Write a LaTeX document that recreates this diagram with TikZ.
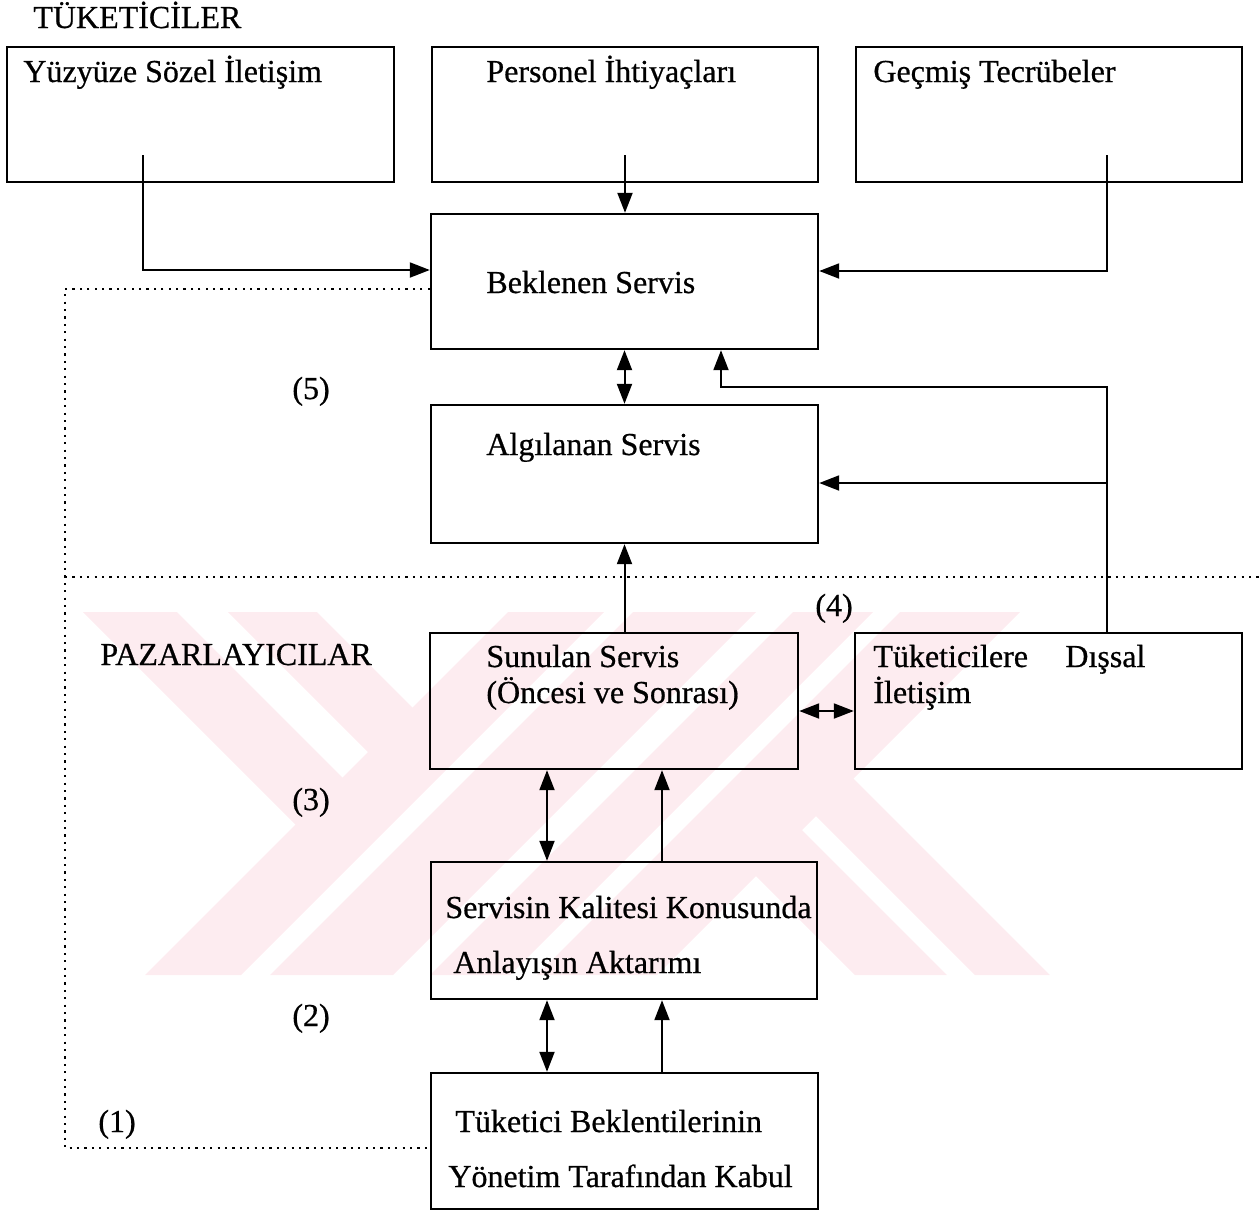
\documentclass[tikz,border=0pt]{standalone}
\usepackage{fontspec}
\setmainfont{Liberation Serif}[FakeBold=0.6]
\usetikzlibrary{arrows.meta,fit,calc}
\definecolor{wm}{RGB}{253,236,240}
\begin{document}
\begin{tikzpicture}[x=0.5pt,y=-0.5pt,
  box/.style={draw, line width=1.2pt, inner sep=0pt},
  txt/.style={anchor=base west, inner sep=0pt, font=\fontsize{16}{19}\selectfont},
  conn/.style={line width=1pt},
  arr/.style={conn, -{Triangle[length=10pt,width=7.5pt]}},
  darr/.style={conn, {Triangle[length=10pt,width=7.5pt]}-{Triangle[length=10pt,width=7.5pt]}},
  dots/.style={line width=1.1pt, dash pattern=on 1.1pt off 2.6pt}
]
\useasboundingbox (0,0) rectangle (1259,1211);

% watermark
\fill[wm] (83,612) -- (177,612) -- (345,780) -- (298,827) -- cycle;
\fill[wm] (228,612) -- (317,612) -- (415,710) -- (370.5,754.5) -- cycle;
\fill[wm] (753.5,873.5) -- (799.5,827.5) -- (947,975) -- (855,975) -- cycle;
\fill[wm] (813.5,813.5) -- (851,776) -- (1050,975) -- (975,975) -- cycle;
\fill[wm] (508,612) -- (604,612) -- (241,975) -- (145,975) -- cycle;
\fill[wm] (633,612) -- (756,612) -- (393,975) -- (270,975) -- cycle;
\fill[wm] (793,612) -- (873,612) -- (510,975) -- (430,975) -- cycle;
\fill[wm] (900,612) -- (1020,612) -- (657,975) -- (537,975) -- cycle;

% boxes
\node[box, fit={(7,47) (394,182)}] (b1) {};
\node[box, fit={(432,47) (818,182)}] (b2) {};
\node[box, fit={(856,47) (1242,182)}] (b3) {};
\node[box, fit={(431,214) (818,349)}] (bek) {};
\node[box, fit={(431,405) (818,543)}] (alg) {};
\node[box, fit={(430,633) (798,769)}] (sun) {};
\node[box, fit={(855,633) (1242,769)}] (tuk) {};
\node[box, fit={(431,862) (817,999)}] (ser) {};
\node[box, fit={(431,1073) (818,1209)}] (tb) {};

% texts
\node[txt] (tT) at (33,28) {TÜKETİCİLER};
\node[txt] (t1) at (23,82) {Yüzyüze Sözel İletişim};
\node[txt] (t2) at (486,82) {Personel İhtiyaçları};
\node[txt] (t3) at (873,82) {Geçmiş Tecrübeler};
\node[txt] (tbek) at (486,293) {Beklenen Servis};
\node[txt] (talg) at (486,455) {Algılanan Servis};
\node[txt] (n5) at (292,399) {(5)};
\node[txt] (tP) at (100,665) {PAZARLAYICILAR};
\node[txt] (ts1) at (486,667) {Sunulan Servis};
\node[txt] (ts2) at (486,703) {(Öncesi ve Sonrası)};
\node[txt] (n4) at (815,616) {(4)};
\node[txt] (tk1) at (873,667) {Tüketicilere};
\node[txt] (tk2) at (1065,667) {Dışsal};
\node[txt] (tk3) at (873,703) {İletişim};
\node[txt] (n3) at (292,810) {(3)};
\node[txt] (tr1) at (445,918) {Servisin Kalitesi Konusunda};
\node[txt] (tr2) at (453,973) {Anlayışın Aktarımı};
\node[txt] (n2) at (292,1026) {(2)};
\node[txt] (tb1) at (455,1132) {Tüketici Beklentilerinin};
\node[txt] (tb2) at (448,1187) {Yönetim Tarafından Kabul};
\node[txt] (n1) at (98,1132) {(1)};

% coordinates
\coordinate (c1) at (143,155);
\coordinate (e1) at (143,270);
\coordinate (c2) at (625,155);
\coordinate (c3) at (1107,155);
\coordinate (e3) at (1107,271);
\coordinate (j0) at (1107,387);
\coordinate (j1) at (1107,483);
\coordinate (k0) at (721,387);
\coordinate (m) at (826,711);
\coordinate (xa) at (547,0);
\coordinate (xb) at (662,0);
\coordinate (dl) at (65,289);
\coordinate (dlb) at (65,1148);
\coordinate (h1) at (65,577);
\coordinate (h2) at (1259,577);

% dotted lines
\draw[dots] (bek.west |- dl) -- (dl) -- (dlb) -- (tb.west |- dlb);
\draw[dots] (h1) -- (h2);

% connectors
\draw[arr] (c1) |- (bek.west |- e1);
\draw[arr] (c2) -- (c2 |- bek.north);
\draw[arr] (c3) |- (bek.east |- e3);
\draw[darr] (bek.south) -- (alg.north);
\draw[arr] (tuk.north -| j0) -- (j0) -- (k0) -- (k0 |- bek.south);
\draw[arr] (j1) -- (alg.east |- j1);
\draw[arr] (alg.south |- sun.north) -- (alg.south);
\draw[darr] (sun.east |- m) -- (tuk.west |- m);
\draw[darr] (sun.south -| xa) -- (ser.north -| xa);
\draw[arr] (ser.north -| xb) -- (sun.south -| xb);
\draw[darr] (ser.south -| xa) -- (tb.north -| xa);
\draw[arr] (tb.north -| xb) -- (ser.south -| xb);
\end{tikzpicture}
\end{document}
